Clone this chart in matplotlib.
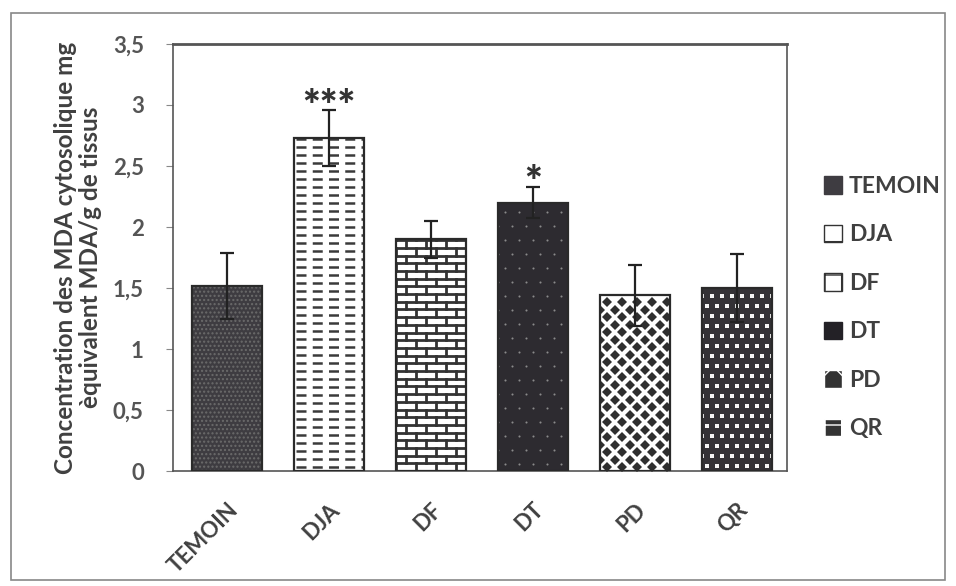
import numpy as np
import matplotlib.pyplot as plt
from matplotlib.patches import Patch, Rectangle

# data
groups = ['TEMOIN', 'DJA', 'DF', 'DT', 'PD', 'QR']
means = [1.52, 2.73, 1.90, 2.20, 1.44, 1.50]
errors = [0.27, 0.23, 0.15, 0.13, 0.25, 0.28]
stars = ['', '***', '', '*', '', '']
yticks = [0, 0.5, 1, 1.5, 2, 2.5, 3, 3.5]

plt.rcParams['font.family'] = ['Lato', 'DejaVu Sans']
plt.rcParams['hatch.linewidth'] = 1.0

fig = plt.figure(figsize=(9.56, 5.86), dpi=100)
ax = fig.add_axes([0.181, 0.196, 0.642, 0.729])
ax.set_xlim(-0.53, 5.49)
ax.set_ylim(0, 3.5)

# pixel -> data units, used for the hand made fill patterns
w_px = 0.642 * 956
h_px = 0.729 * 586
ux = (5.49 + 0.53) / w_px
uy = 3.5 / h_px

x = np.arange(len(groups))
face = ['#3e3c41', 'white', 'white', '#2d2b30', 'white', '#343236']
hatch = ['....', None, None, None, None, None]
hcol = ['#6b6b6b', '#333333', '#333333', '#333333', '#333333', '#333333']

bars = ax.bar(x, means, width=0.69, color=face, edgecolor=hcol, linewidth=0, zorder=2)
for b, h in zip(bars, hatch):
    if h:
        b.set_hatch(h)


def marker_grid(bar, dx, dy, stagger, **kw):
    x0, w, hgt = bar.get_x(), bar.get_width(), bar.get_height()
    ys = np.arange(dy * uy / 2, hgt, dy * uy)
    px, py = [], []
    for i, yy in enumerate(ys):
        off = (dx / 2 if (stagger and i % 2) else 0) * ux
        xs = np.arange(x0 + dx * ux / 2 + off - dx * ux, x0 + w + dx * ux, dx * ux)
        px.extend(xs)
        py.extend([yy] * len(xs))
    pts, = ax.plot(px, py, linestyle='none', zorder=3, **kw)
    pts.set_clip_path(bar)


# DJA: dashes
b = bars[1]
for yy in np.arange(4 * uy, b.get_height(), 8 * uy):
    ln, = ax.plot([b.get_x() + 2 * ux, b.get_x() + b.get_width()], [yy, yy], color='#3a3a3a',
                  lw=1.8, linestyle=(0, (4, 2.5)), zorder=3)
    ln.set_clip_path(b)

# DF: bricks
b = bars[2]
bh, bw = 7.7 * uy, 20 * ux
for i, yy in enumerate(np.arange(0, b.get_height(), bh)):
    ln, = ax.plot([b.get_x(), b.get_x() + b.get_width()], [yy, yy], color='#333333', lw=2, zorder=3)
    ln.set_clip_path(b)
    off = bw / 2 if i % 2 else 0
    for xx in np.arange(b.get_x() + off, b.get_x() + b.get_width(), bw):
        vl, = ax.plot([xx, xx], [yy, yy + bh], color='#333333', lw=2, zorder=3)
        vl.set_clip_path(b)

# DT: sparse light dots
marker_grid(bars[3], 14, 14, True, marker='o', ms=1.5, color='#8a8a8a', mew=0)
# PD: dark diamonds
marker_grid(bars[4], 15, 7.5, True, marker='D', ms=4.6, color='#2f2f2f', mew=0)
# QR: white squares on dark
marker_grid(bars[5], 10, 10, True, marker='s', ms=3, color='#f4f4f4', mew=0)

# outlines
ax.bar(x, means, width=0.69, fill=False, edgecolor='#2a2a2a', linewidth=1.6, zorder=4)

ax.errorbar(x, means, yerr=errors, fmt='none', ecolor='#222222', elinewidth=1.6,
            capsize=5, capthick=1.6, zorder=5)

for xi, m, e, s in zip(x, means, errors, stars):
    if s:
        ax.annotate(s, (xi, m + e), xytext=(0, -7), textcoords='offset points', ha='center',
                    va='baseline', fontsize=30, fontweight='heavy', color='#333333')

ax.set_xticks(x)
ax.set_xticklabels(groups, rotation=45, ha='right', rotation_mode='anchor',
                   fontsize=16, fontweight='bold', color='#404040')
ax.tick_params(axis='x', length=0, pad=20)
ax.set_yticks(yticks)
ax.set_yticklabels([str(v).replace('.', ',').replace(',0', '') for v in yticks],
                   fontsize=16, fontweight='bold', color='#555555')
ax.tick_params(axis='y', length=5, color='#888888', pad=16)
for sp in ax.spines.values():
    sp.set_color('#555555')
    sp.set_linewidth(1.2)
ax.spines['top'].set_linewidth(2)

ax.set_ylabel('Concentration des MDA cytosolique mg\nèquivalent MDA/g de tissus',
              fontsize=17.5, fontweight='bold', color='#404040', labelpad=8, linespacing=1.1)

handles = [
    Patch(facecolor='#3e3c41', edgecolor='#3e3c41'),
    Patch(facecolor='white', edgecolor='#333333', hatch='-'),
    Patch(facecolor='white', edgecolor='#333333', hatch='+'),
    Patch(facecolor='#232126', edgecolor='#232126'),
    Patch(facecolor='#333333', edgecolor='white', hatch='x'),
    Patch(facecolor='#333333', edgecolor='white', hatch='+'),
]
fig.legend(handles, groups, loc='upper left', bbox_to_anchor=(0.84, 0.735), frameon=False,
           prop={'size': 16.5, 'weight': 'bold'}, labelcolor='#404040',
           handlelength=0.8, handleheight=0.8, handletextpad=0.3, labelspacing=1.2)

# outer frame of the chart area
fig.patches.append(Rectangle((0.011, 0.01), 0.978, 0.968, transform=fig.transFigure,
                             fill=False, edgecolor='#888888', linewidth=1.2))

fig.savefig('out.png', dpi=100)
